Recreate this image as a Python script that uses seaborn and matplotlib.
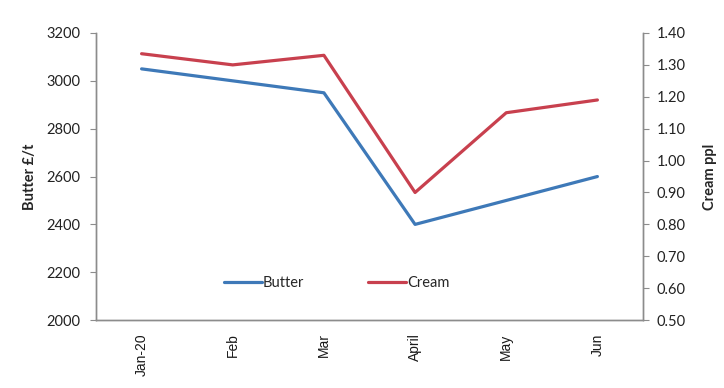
import matplotlib
matplotlib.use("Agg")
import matplotlib.pyplot as plt
import seaborn as sns
import pandas as pd

# -----------------------------
# Data
# -----------------------------
months = ["Jan-20", "Feb", "Mar", "April", "May", "Jun"]
butter = [3050, 3000, 2950, 2400, 2500, 2600]       # £/t, left axis
cream = [1.335, 1.30, 1.33, 0.90, 1.15, 1.19]       # ppl, right axis

butter_col = "#3E79B8"
cream_col = "#C8404E"
axis_col = "#8C8C8C"
tick_font = "Lato"

df = pd.DataFrame({"month": months, "butter": butter, "cream": cream})

sns.set_style("white")
plt.rcParams["font.family"] = [tick_font, "DejaVu Sans"]

fig = plt.figure(figsize=(7.24, 3.88), dpi=100)
ax = fig.add_axes([0.1326, 0.175, 0.7555, 0.74])
ax2 = ax.twinx()

sns.lineplot(data=df, x="month", y="butter", ax=ax, color=butter_col,
             linewidth=2.3, sort=False, label="Butter", legend=False)
sns.lineplot(data=df, x="month", y="cream", ax=ax2, color=cream_col,
             linewidth=2.3, sort=False, label="Cream", legend=False)

ax.set_xlim(-0.5, len(months) - 0.5)
ax.set_ylim(2000, 3200)
ax.set_yticks(range(2000, 3201, 200))
ax2.set_ylim(0.5, 1.4)
ax2.set_yticks([0.5 + 0.1 * i for i in range(10)])
ax2.set_yticklabels([f"{0.5 + 0.1 * i:.2f}" for i in range(10)])

ax.set_xlabel("")
ax.set_ylabel("Butter £/t", fontsize=10.5, fontweight="bold", labelpad=7)
ax2.set_ylabel("Cream ppl", fontsize=10.5, fontweight="bold", labelpad=12)

# spines: only left, right and bottom, in grey
for a in (ax, ax2):
    a.spines["top"].set_visible(False)
    for side in ("left", "right", "bottom"):
        a.spines[side].set_color(axis_col)
        a.spines[side].set_linewidth(1.0)

ax.tick_params(axis="y", which="both", left=True, length=4, width=0.8,
               color=axis_col, labelsize=10.5, pad=7, labelcolor="#222222")
ax2.tick_params(axis="y", which="both", right=True, length=4, width=0.8,
                color=axis_col, labelsize=10.5, pad=6, labelcolor="#222222")
ax.tick_params(axis="x", bottom=False, pad=6, labelsize=10,
               labelcolor="#1a1a1a")
for lab in ax.get_xticklabels():
    lab.set_rotation(90)
    lab.set_va("top")
    lab.set_ha("center")
    lab.set_family(["Liberation Sans", "DejaVu Sans"])

# legend inside the plot, bottom centre, no frame
handles = ax.get_lines()[:1] + ax2.get_lines()[:1]
ax2.legend(handles, ["Butter", "Cream"], loc="center",
           bbox_to_anchor=(0.44, 0.13), ncol=2, frameon=False,
           fontsize=10.5, handlelength=2.6, handletextpad=0.05,
           columnspacing=4.4)

fig.savefig("out.png", dpi=100)
